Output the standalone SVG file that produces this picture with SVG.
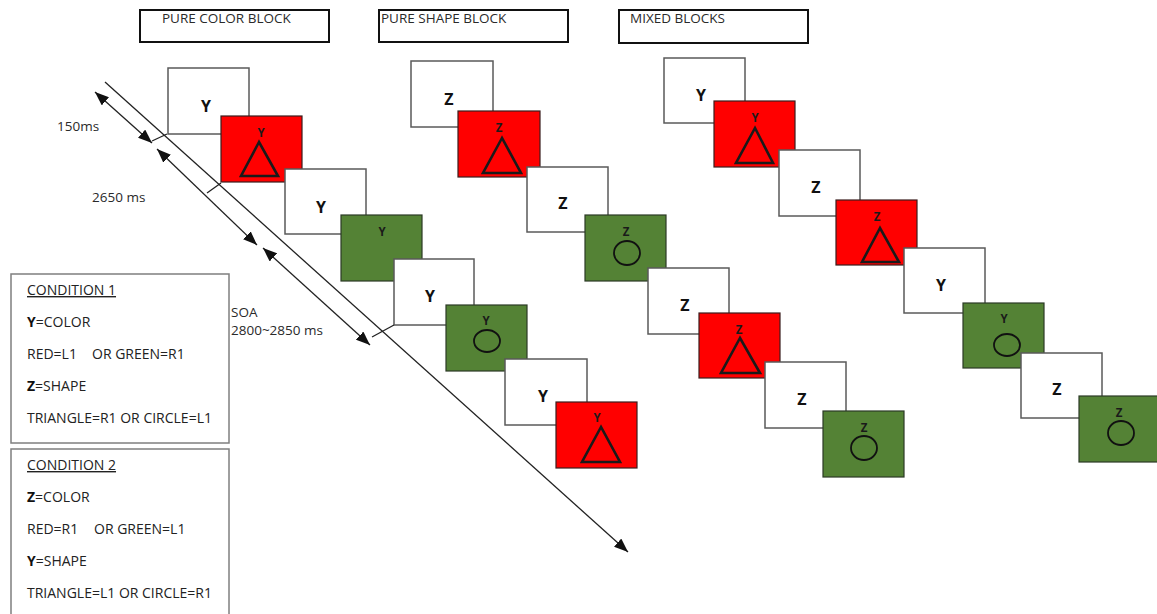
<svg xmlns="http://www.w3.org/2000/svg" width="1157" height="614" viewBox="0 0 1157 614">
<style>
.bg{fill:#fff}
.hdr{fill:#fff;stroke:#111;stroke-width:2}
.cond{fill:#fff;stroke:#7f7f7f;stroke-width:1.5}
.w{fill:#fff;stroke:#5a5a5a;stroke-width:1.5}
.r{fill:#ff0000;stroke:#3a1d1d;stroke-width:1.2}
.g{fill:#548235;stroke:#2c3a26;stroke-width:1.2}
.big{font-family:"Open Sans","DejaVu Sans",sans-serif;font-weight:bold;font-size:16px;fill:#111;text-anchor:middle}
.sm{font-family:"Open Sans","DejaVu Sans",sans-serif;font-weight:bold;font-size:11.5px;fill:#1a1a1a;text-anchor:middle}
.tri{fill:none;stroke:#1a1a1a;stroke-width:2.6;stroke-linejoin:miter}
.cir{fill:none;stroke:#111;stroke-width:1.8}
.lbl{font-family:"Open Sans","DejaVu Sans",sans-serif;font-size:13.5px;fill:#2a2a2a}
.ct{font-family:"Open Sans","DejaVu Sans",sans-serif;font-size:14px;fill:#222}
.b{font-weight:bold;fill:#111}
.ln{fill:none;stroke:#222;stroke-width:1.3}
</style>
<defs>
<marker id="ah" viewBox="0 0 14 11" refX="14" refY="5.5" markerWidth="14" markerHeight="11" markerUnits="userSpaceOnUse" orient="auto-start-reverse">
<path d="M0,0 L14,5.5 L0,11 z" fill="#111"/>
</marker>
</defs>
<rect class="bg" x="0" y="0" width="1157" height="614"/>

<g id="headers">
<g id="hdr-color"><rect class="hdr" x="140" y="10" width="189" height="32"/><text class="lbl" x="162" y="23">PURE COLOR BLOCK</text></g>
<g id="hdr-shape"><rect class="hdr" x="379" y="10" width="189" height="32"/><text class="lbl" x="381" y="23">PURE SHAPE BLOCK</text></g>
<g id="hdr-mixed"><rect class="hdr" x="619" y="10" width="189" height="33"/><text class="lbl" x="630" y="23">MIXED BLOCKS</text></g>
</g>

<g id="pure-color">
<g id="pc1"><rect class="w" x="168" y="68" width="81" height="66"/><text class="big" x="206" y="112">Y</text></g>
<g id="pc2"><rect class="r" x="221" y="116" width="81" height="66"/><text class="sm" x="261" y="137">Y</text><polygon class="tri" points="259,142 241,176 278,176"/></g>
<g id="pc3"><rect class="w" x="285" y="169" width="81" height="65"/><text class="big" x="321" y="213">Y</text></g>
<g id="pc4"><rect class="g" x="341" y="215" width="81" height="66"/><text class="sm" x="382" y="236">Y</text></g>
<g id="pc5"><rect class="w" x="394" y="259" width="80" height="66"/><text class="big" x="430" y="302">Y</text></g>
<g id="pc6"><rect class="g" x="446" y="305" width="81" height="66"/><text class="sm" x="486" y="325">Y</text><ellipse class="cir" cx="487" cy="341" rx="13" ry="11"/></g>
<g id="pc7"><rect class="w" x="505" y="359" width="82" height="66"/><text class="big" x="543" y="402">Y</text></g>
<g id="pc8"><rect class="r" x="556" y="402" width="81" height="66"/><text class="sm" x="597" y="422">Y</text><polygon class="tri" points="601,427 582,462 620,462"/></g>
</g>

<g id="pure-shape">
<g id="ps1"><rect class="w" x="411" y="61" width="82" height="66"/><text class="big" x="449" y="105">Z</text></g>
<g id="ps2"><rect class="r" x="458" y="111" width="82" height="66"/><text class="sm" x="499" y="132">Z</text><polygon class="tri" points="502,138 483,173 521,173"/></g>
<g id="ps3"><rect class="w" x="527" y="167" width="81" height="65"/><text class="big" x="563" y="209">Z</text></g>
<g id="ps4"><rect class="g" x="585" y="215" width="81" height="66"/><text class="sm" x="626" y="236">Z</text><ellipse class="cir" cx="627" cy="253" rx="13" ry="12"/></g>
<g id="ps5"><rect class="w" x="648" y="268" width="81" height="66"/><text class="big" x="685" y="311">Z</text></g>
<g id="ps6"><rect class="r" x="699" y="313" width="81" height="65"/><text class="sm" x="739" y="334">Z</text><polygon class="tri" points="740,338 721,373 760,373"/></g>
<g id="ps7"><rect class="w" x="765" y="362" width="81" height="66"/><text class="big" x="802" y="405">Z</text></g>
<g id="ps8"><rect class="g" x="823" y="411" width="81" height="66"/><text class="sm" x="864" y="432">Z</text><ellipse class="cir" cx="864" cy="448" rx="13" ry="12"/></g>
</g>

<g id="mixed">
<g id="mx1"><rect class="w" x="664" y="58" width="81" height="65"/><text class="big" x="701" y="101">Y</text></g>
<g id="mx2"><rect class="r" x="714" y="101" width="81" height="66"/><text class="sm" x="755" y="122">Y</text><polygon class="tri" points="755,128 736,163 773,163"/></g>
<g id="mx3"><rect class="w" x="779" y="150" width="81" height="66"/><text class="big" x="816" y="193">Z</text></g>
<g id="mx4"><rect class="r" x="836" y="200" width="81" height="65"/><text class="sm" x="877" y="221">Z</text><polygon class="tri" points="880,228 862,262 899,262"/></g>
<g id="mx5"><rect class="w" x="904" y="248" width="81" height="65"/><text class="big" x="941" y="291">Y</text></g>
<g id="mx6"><rect class="g" x="963" y="303" width="81" height="65"/><text class="sm" x="1004" y="323">Y</text><ellipse class="cir" cx="1007" cy="345" rx="13" ry="11"/></g>
<g id="mx7"><rect class="w" x="1021" y="353" width="81" height="65"/><text class="big" x="1057" y="395">Z</text></g>
<g id="mx8"><rect class="g" x="1079" y="396" width="81" height="66"/><text class="sm" x="1119" y="417">Z</text><ellipse class="cir" cx="1121" cy="433" rx="13" ry="12"/></g>
</g>

<g id="connectors">
<path class="ln" d="M105,82 L628,552" marker-end="url(#ah)"/>
<path class="ln" d="M95,92 L152,143" marker-start="url(#ah)" marker-end="url(#ah)"/>
<path class="ln" d="M157,149 L257,245" marker-start="url(#ah)" marker-end="url(#ah)"/>
<path class="ln" d="M263,248 L370,345" marker-start="url(#ah)" marker-end="url(#ah)"/>
<path class="ln" d="M152,141 L167,134"/>
<path class="ln" d="M207,193 L221,183"/>
<path class="ln" d="M372,337 L394,325"/>
</g>

<g id="timing-labels">
<text class="lbl" x="57" y="131">150ms</text>
<text class="lbl" x="92" y="202">2650 ms</text>
<text class="lbl" x="231" y="317">SOA</text>
<text class="lbl" x="231" y="335">2800~2850 ms</text>
</g>

<g id="condition1">
<rect class="cond" x="11" y="274" width="218" height="169"/>
<text class="ct" x="27" y="295" text-decoration="underline">CONDITION 1</text>
<text class="ct" x="27" y="327"><tspan class="b">Y</tspan>=COLOR</text>
<text class="ct" x="27" y="359">RED=L1<tspan x="92">OR GREEN=R1</tspan></text>
<text class="ct" x="27" y="391"><tspan class="b">Z</tspan>=SHAPE</text>
<text class="ct" x="27" y="423">TRIANGLE=R1 OR CIRCLE=L1</text>
</g>
<g id="condition2">
<rect class="cond" x="11" y="449" width="218" height="180"/>
<text class="ct" x="27" y="470" text-decoration="underline">CONDITION 2</text>
<text class="ct" x="27" y="502"><tspan class="b">Z</tspan>=COLOR</text>
<text class="ct" x="27" y="534">RED=R1<tspan x="94">OR GREEN=L1</tspan></text>
<text class="ct" x="27" y="566"><tspan class="b">Y</tspan>=SHAPE</text>
<text class="ct" x="27" y="598">TRIANGLE=L1 OR CIRCLE=R1</text>
</g>
</svg>
